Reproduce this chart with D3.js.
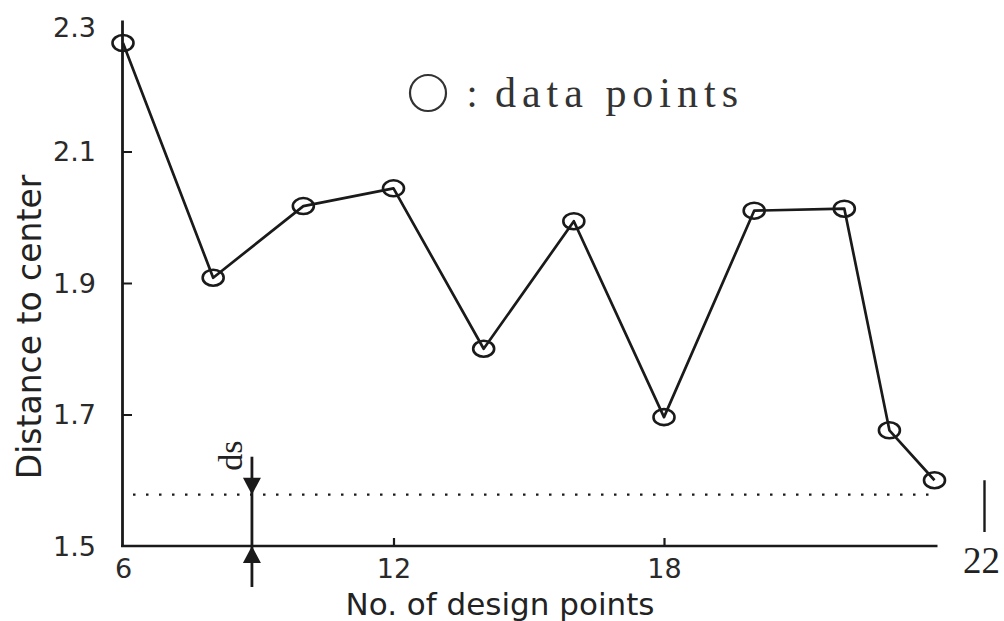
<!DOCTYPE html>
<html>
<head>
<meta charset="utf-8">
<script src="https://cdn.jsdelivr.net/npm/d3@7"></script>
<style>
  html, body { margin: 0; padding: 0; background: #fff; }
  svg { display: block; }
</style>
</head>
<body>
<svg id="chart" width="1004" height="621"></svg>
<script>
// Number of design points vs. distance to center
const designPoints = [6, 8, 10, 12, 14, 16, 18, 20, 22, 23, 24];
const distances    = [2.265, 1.908, 2.017, 2.044, 1.800, 1.994, 1.696, 2.010, 2.013, 1.676, 1.600];

const xTicks = [6, 12, 18];
const yTicks = [2.3, 2.1, 1.9, 1.7, 1.5];

// Threshold level "ds" and where its dimension arrow sits
const dsLevel = 1.578;
const dsAt = 8.86;
const endLabel = "22";

const svg = d3.select("#chart");
const ink = "#1a1a1a";

const x = d3.scaleLinear().domain([6, 24]).range([123, 934.5]);
const y = d3.scaleLinear().domain([1.5, 2.3]).range([546, 20]);

// Y axis: ticks point inward, labels on the left
const yAxis = d3.axisLeft(y)
  .tickValues(yTicks)
  .tickFormat(d3.format(".1f"))
  .tickSizeInner(-10)
  .tickSizeOuter(0)
  .tickPadding(26);

const gy = svg.append("g")
  .attr("transform", `translate(${x(6) - 1},0)`)
  .call(yAxis);
gy.select(".domain").attr("stroke", ink).attr("stroke-width", 2.8);
gy.selectAll(".tick line").attr("stroke", ink).attr("stroke-width", 2)
  .attr("display", d => (d === 2.3 || d === 1.5) ? "none" : null);
gy.selectAll(".tick text")
  .attr("font-family", "DejaVu Sans, sans-serif")
  .attr("font-size", 27)
  .attr("fill", "#2a2a2a")
  .attr("dy", d => d === 2.3 ? "0.62em" : "0.34em");

// X axis: ticks point up into the plot
const xAxis = d3.axisBottom(x)
  .tickValues(xTicks)
  .tickSizeInner(-8)
  .tickSizeOuter(0)
  .tickPadding(13);

const gx = svg.append("g")
  .attr("transform", `translate(0,${y(1.5)})`)
  .call(xAxis);
gx.select(".domain").attr("stroke", ink).attr("stroke-width", 2.6)
  .attr("d", `M${x(6) - 2},0H${x(24) + 3}`);
gx.selectAll(".tick line").attr("stroke", ink).attr("stroke-width", 2.2)
  .attr("display", d => d === 6 ? "none" : null);
gx.selectAll(".tick text")
  .attr("font-family", "DejaVu Sans, sans-serif")
  .attr("font-size", 27)
  .attr("fill", "#2a2a2a");

// Axis titles
svg.append("text")
  .attr("x", 500).attr("y", 615)
  .attr("text-anchor", "middle")
  .attr("font-family", "DejaVu Sans, sans-serif")
  .attr("font-size", 31)
  .attr("fill", "#222")
  .text("No. of design points");

svg.append("text")
  .attr("transform", "translate(41,327) rotate(-90)")
  .attr("text-anchor", "middle")
  .attr("font-family", "DejaVu Sans, sans-serif")
  .attr("font-size", 33)
  .attr("fill", "#222")
  .text("Distance to center");

// Dotted threshold line
svg.append("line")
  .attr("x1", x(6) + 10).attr("x2", x(24) - 6)
  .attr("y1", y(dsLevel)).attr("y2", y(dsLevel))
  .attr("stroke", ink)
  .attr("stroke-width", 2.3)
  .attr("stroke-dasharray", "2.5,10.5");

// Dimension arrow between the threshold and the axis
const ax = x(dsAt);
svg.append("line")
  .attr("x1", ax).attr("x2", ax)
  .attr("y1", y(dsLevel) - 38).attr("y2", y(1.5) + 41)
  .attr("stroke", ink).attr("stroke-width", 2.8);
const head = 17, half = 9;
svg.append("path")
  .attr("d", `M${ax},${y(dsLevel)}L${ax - half},${y(dsLevel) - head}L${ax + half},${y(dsLevel) - head}Z`)
  .attr("fill", ink);
svg.append("path")
  .attr("d", `M${ax},${y(1.5)}L${ax - half},${y(1.5) + head}L${ax + half},${y(1.5) + head}Z`)
  .attr("fill", ink);
svg.append("text")
  .attr("transform", `translate(${ax - 10},${y(dsLevel) - 39}) rotate(-90)`)
  .attr("text-anchor", "middle")
  .attr("font-family", "Liberation Serif, serif")
  .attr("font-size", 34)
  .attr("fill", "#222")
  .text("ds");

// Data series
const pts = designPoints.map((d, i) => [d, distances[i]]);
const line = d3.line().x(d => x(d[0])).y(d => y(d[1]));
svg.append("path")
  .datum(pts)
  .attr("d", line)
  .attr("fill", "none")
  .attr("stroke", ink)
  .attr("stroke-width", 2.7)
  .attr("stroke-linejoin", "round");

svg.append("g").selectAll("ellipse")
  .data(pts)
  .join("ellipse")
  .attr("cx", d => x(d[0]))
  .attr("cy", d => y(d[1]))
  .attr("rx", 10.5)
  .attr("ry", 8)
  .attr("fill", "none")
  .attr("stroke", ink)
  .attr("stroke-width", 2.6);

// Legend
svg.append("circle")
  .attr("cx", 428).attr("cy", 93).attr("r", 18)
  .attr("fill", "none").attr("stroke", "#333").attr("stroke-width", 2.2);
svg.append("text")
  .attr("x", 472).attr("y", 107)
  .attr("text-anchor", "middle")
  .attr("font-family", "Liberation Serif, serif")
  .attr("font-size", 40)
  .attr("fill", "#333")
  .text(":");
svg.append("text")
  .attr("x", 495).attr("y", 107)
  .attr("font-family", "Liberation Serif, serif")
  .attr("font-size", 42)
  .attr("fill", "#333")
  .attr("textLength", 243)
  .attr("lengthAdjust", "spacing")
  .text("data points");

// Label and marker beyond the right end of the axis
svg.append("line")
  .attr("x1", x(24) + 50).attr("x2", x(24) + 50)
  .attr("y1", y(1.6)).attr("y2", y(1.5) - 14)
  .attr("stroke", ink).attr("stroke-width", 2.4);
svg.append("text")
  .attr("x", x(24) + 47).attr("y", 573)
  .attr("text-anchor", "middle")
  .attr("font-family", "Liberation Serif, serif")
  .attr("font-size", 37)
  .attr("fill", "#222")
  .text(endLabel);
</script>
</body>
</html>
